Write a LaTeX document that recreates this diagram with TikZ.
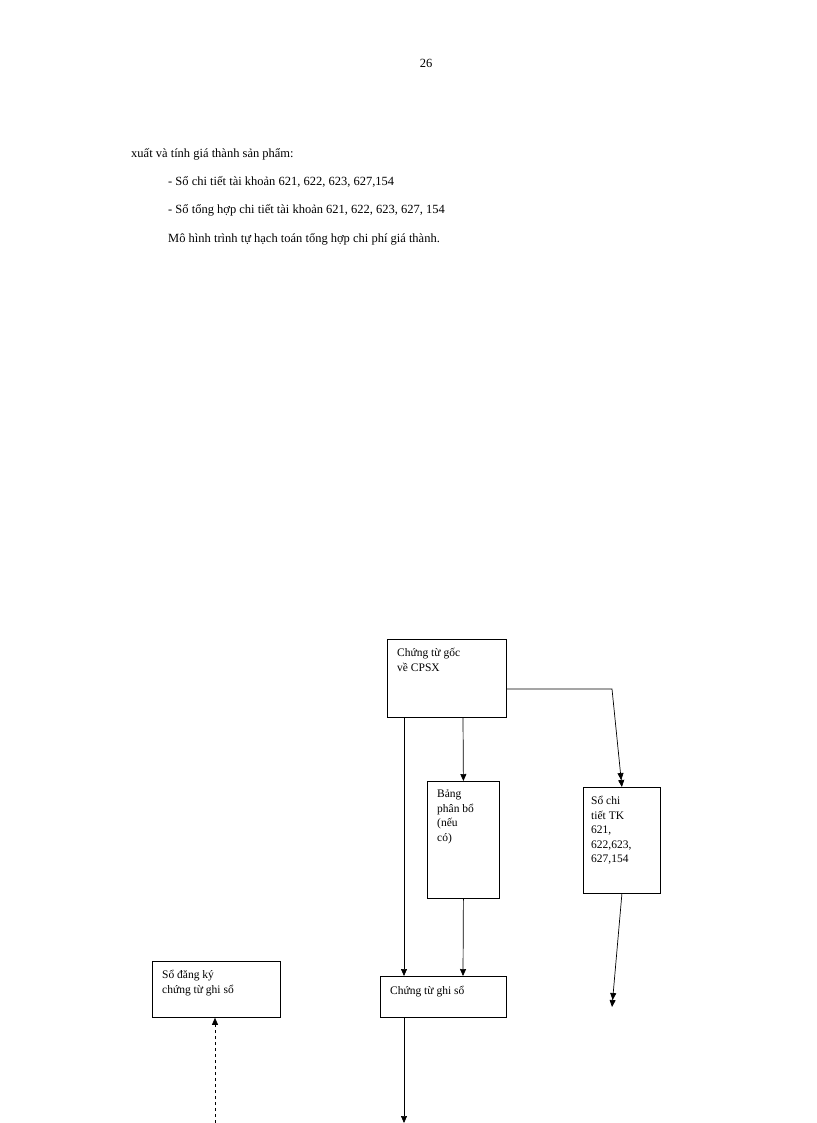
\documentclass[tikz,border=0pt]{standalone}
\usepackage{fontspec}
\setmainfont{Liberation Serif}
\usetikzlibrary{arrows.meta}
\begin{document}
\begin{tikzpicture}[x=1pt,y=-1pt,
  box/.style={draw,line width=0.8pt,anchor=north west,inner sep=0pt},
  txt/.style={anchor=north west,align=left,font=\fontsize{11.5}{14.5}\selectfont,inner sep=0pt},
  body/.style={anchor=base west,inner sep=0pt,font=\fontsize{12.5}{15}\selectfont},
  arr/.style={line width=0.7pt,-{Triangle[length=7pt,width=6pt]}},
  darr/.style={line width=0.7pt,-{Triangle[length=7pt,width=6pt]Triangle[length=7pt,width=6pt]}}]
\useasboundingbox (0,0) rectangle (816,1123);
\node[body,anchor=base] (pg) at (426,68) {26};
\node[body] (l1) at (131,158) {xuất và tính giá thành sản phẩm:};
\node[body] (l2) at (168,186) {- Sổ chi tiết tài khoản 621, 622, 623, 627,154};
\node[body] (l3) at (168,214) {- Sổ tổng hợp chi tiết tài khoản 621, 622, 623, 627, 154};
\node[body] (l4) at (168,242) {Mô hình trình tự hạch toán tổng hợp chi phí giá thành.};

\node[box,minimum width=119pt,minimum height=78pt] (goc) at (387,639) {};
\node[txt] at (397,648) {Chứng từ gốc\\về CPSX};
\node[box,minimum width=72pt,minimum height=117pt] (bang) at (427,781) {};
\node[txt] at (437,790) {Bảng\\phân bổ\\(nếu\\có)};
\node[box,minimum width=77pt,minimum height=106pt] (sct) at (583,787) {};
\node[txt] at (591,796) {Sổ chi\\tiết TK\\621,\\622,623,\\627,154};
\node[box,minimum width=126pt,minimum height=41pt] (ctgs) at (380,976) {};
\node[txt] at (390,986) {Chứng từ ghi sổ};
\node[box,minimum width=128pt,minimum height=56pt] (sdk) at (152,961) {};
\node[txt] at (162,970) {Sổ đăng ký\\chứng từ ghi sổ};

\coordinate (e1) at (612,1007);
\coordinate (e2) at (404,1123);
\coordinate (e3) at (215,1123);

\draw[arr] (404,717) -- (404,976);
\draw[arr] (463,717) -- (bang.north);
\draw[darr] (506,689) -- (612,689) -- (sct.north);
\draw[arr] (bang.south) -- (463,976);
\draw[darr] (sct.south) -- (e1);
\draw[arr] (ctgs.south -| e2) -- (e2);
\draw[arr,dashed] (e3) -- (e3 |- sdk.south);
\end{tikzpicture}
\end{document}
